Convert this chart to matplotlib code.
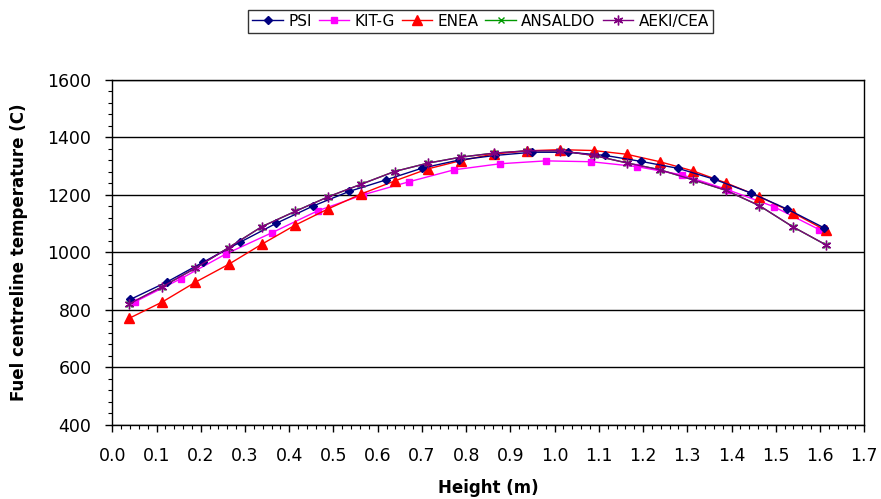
import matplotlib
matplotlib.use("Agg")
import matplotlib.pyplot as plt
from matplotlib.ticker import MultipleLocator

# axial node heights (m) - different nodalisation per code
h_20 = [0.041, 0.124, 0.206, 0.289, 0.371, 0.454, 0.536, 0.619, 0.701, 0.784,
        0.866, 0.949, 1.031, 1.114, 1.196, 1.279, 1.361, 1.444, 1.526, 1.609]
h_16 = [0.052, 0.155, 0.258, 0.361, 0.464, 0.567, 0.670, 0.773, 0.877, 0.980,
        1.083, 1.186, 1.289, 1.392, 1.495, 1.598]
h_22 = [0.038, 0.113, 0.188, 0.263, 0.338, 0.413, 0.488, 0.563, 0.638, 0.713,
        0.788, 0.863, 0.938, 1.013, 1.088, 1.163, 1.238, 1.313, 1.388, 1.463,
        1.538, 1.613]

psi = [836, 897, 966, 1035, 1101, 1161, 1212, 1252, 1293, 1321,
       1337, 1348, 1348, 1337, 1316, 1292, 1254, 1206, 1150, 1085]
kit_g = [828, 908, 995, 1068, 1144, 1200, 1245, 1287, 1308, 1318,
         1315, 1298, 1269, 1217, 1159, 1079]
enea = [770, 827, 896, 958, 1028, 1094, 1151, 1203, 1248, 1290, 1319,
        1342, 1353, 1357, 1354, 1341, 1315, 1283, 1241, 1194, 1138, 1076]
aeki = [820, 880, 945, 1016, 1089, 1142, 1193, 1237, 1281, 1310, 1331,
        1345, 1353, 1353, 1337, 1311, 1287, 1252, 1215, 1162, 1089, 1026]
# ANSALDO lies under the AEKI/CEA curve in the original
ansaldo = list(aeki)

plt.rcParams['font.family'] = ['DejaVu Sans']

fig = plt.figure(figsize=(8.81, 4.99), dpi=100)
ax = fig.add_axes([0.1275, 0.149, 0.8535, 0.691])

ax.plot(h_20, psi, color='#000080', lw=1, marker='D', ms=4.5, label='PSI', zorder=5)
ax.plot(h_16, kit_g, color='#FF00FF', lw=1, marker='s', ms=5, label='KIT-G', zorder=4)
ax.plot(h_22, enea, color='#FF0000', lw=1, marker='^', ms=6.5, label='ENEA', zorder=4)
ax.plot(h_22, ansaldo, color='#009900', lw=1, marker='x', ms=5, mew=1, label='ANSALDO', zorder=3)
ax.plot(h_22, aeki, color='#800080', lw=1, marker=(6, 2, 0), ms=7, mew=1, label='AEKI/CEA', zorder=6)

ax.set_xlim(0, 1.7)
ax.set_ylim(400, 1600)
ax.xaxis.set_major_locator(MultipleLocator(0.1))
ax.xaxis.set_minor_locator(MultipleLocator(0.02))
ax.yaxis.set_major_locator(MultipleLocator(200))
ax.yaxis.set_minor_locator(MultipleLocator(40))
ax.set_xticklabels([f'{v:.1f}' for v in ax.get_xticks()])

ax.tick_params(which='both', direction='out', labelsize=12.5, color='black')
ax.tick_params(which='major', length=5, width=1)
ax.tick_params(which='minor', length=3, width=0.8)
ax.tick_params(axis='x', pad=11)
ax.tick_params(axis='y', pad=10)

ax.grid(axis='y', which='major', color='black', lw=1)
ax.set_axisbelow(True)
for s in ax.spines.values():
    s.set_color('black')
    s.set_linewidth(1)

ax.set_xlabel('Height (m)', fontsize=12, fontweight='bold', labelpad=10)
ax.set_ylabel('Fuel centreline temperature (C)', fontsize=12, fontweight='bold', labelpad=14)

leg = fig.legend(loc='center', bbox_to_anchor=(480.5 / 881, 1 - 21.3 / 499), ncol=5,
                 fontsize=11, frameon=True, fancybox=False, handlelength=2,
                 columnspacing=0.45, handletextpad=0.35, borderpad=0.25)
leg.get_frame().set_edgecolor('black')
leg.get_frame().set_linewidth(1)

fig.savefig('out.png', dpi=100)
